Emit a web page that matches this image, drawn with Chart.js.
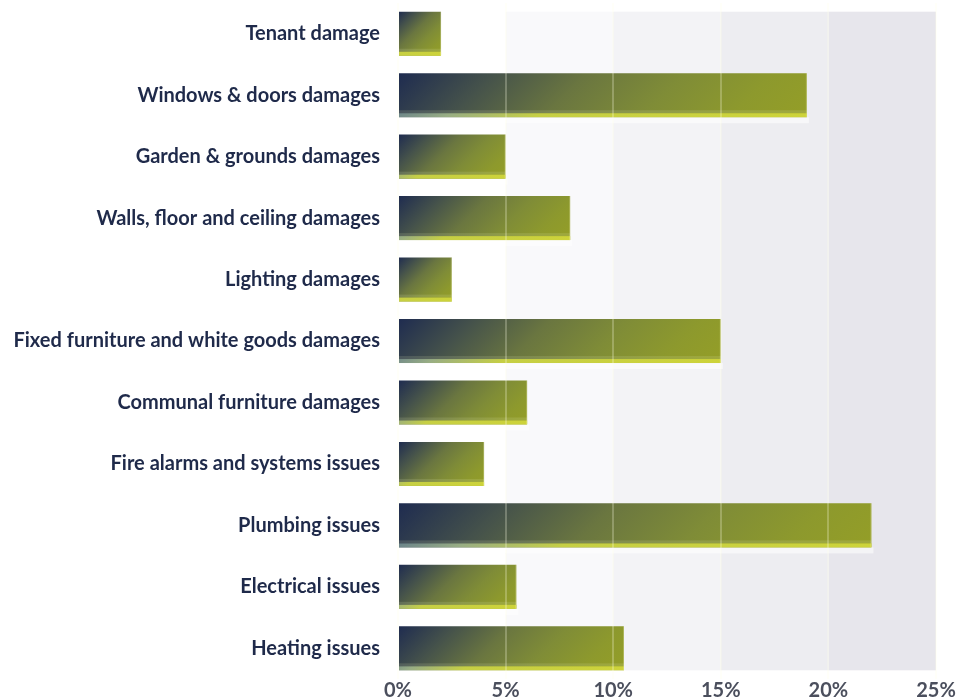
<!DOCTYPE html>
<html>
<head>
<meta charset="utf-8">
<script src="https://cdn.jsdelivr.net/npm/chart.js@4/dist/chart.umd.min.js"></script>
<style>
  html, body { margin: 0; padding: 0; background: #ffffff; }
  #wrap { width: 957px; height: 697px; position: relative; }
</style>
</head>
<body>
<div id="wrap"><canvas id="chart"></canvas></div>
<script>
// Share of reported repairs by type (%)
const categories = [
    'Tenant damage',
    'Windows & doors damages',
    'Garden & grounds damages',
    'Walls, floor and ceiling damages',
    'Lighting damages',
    'Fixed furniture and white goods damages',
    'Communal furniture damages',
    'Fire alarms and systems issues',
    'Plumbing issues',
    'Electrical issues',
    'Heating issues'
];
const shares = [2, 19, 5, 8, 2.5, 15, 6, 4, 22, 5.5, 10.5];
const axisMax = 25;
const tickStep = 5;

const barPct = 0.717;
const bandColours = ['#ffffff', '#f9f9fb', '#f3f3f6', '#ededf1', '#e7e6ec'];

// 45 degree gradient running from the top-left corner to the bottom-right corner
function diagonal(c, x0, top, w, h, stops) {
    const d = (w + h) / 2;
    const g = c.createLinearGradient(x0, top, x0 + d, top + d);
    stops.forEach(([t, col]) => g.addColorStop(t, col));
    return g;
}

const bodyStops = [
    [0, '#1e2b50'], [0.21, '#45524b'], [0.42, '#6a7640'],
    [0.63, '#7f8c37'], [0.83, '#8d992d'], [1, '#949e27']
];
const footStops = [
    [0, '#4f6a8e'], [0.2, '#98ad84'], [0.4, '#c6cf44'], [1, '#cdd33a']
];

function barFill(ctx) {
    const chart = ctx.chart;
    const xs = chart.scales.x, ys = chart.scales.y;
    if (!xs || !ys || !ys.height) return '#5c6a3a';
    const x0 = xs.getPixelForValue(0);
    const x1 = xs.getPixelForValue(ctx.raw);
    const yc = ys.getPixelForValue(ctx.dataIndex);
    const h = ys.height / categories.length * barPct;
    if (![x0, x1, yc, h].every(Number.isFinite)) return '#5c6a3a';
    return diagonal(chart.ctx, x0, yc - h / 2, x1 - x0, h, bodyStops);
}

// Striped backdrop behind the bars, one shade per 5% step
const bandsPlugin = {
    id: 'bands',
    beforeDatasetsDraw(chart) {
        const meta = chart.getDatasetMeta(0);
        const first = meta.data[0], last = meta.data[meta.data.length - 1];
        const top = first.y - first.height / 2;
        const bottom = last.y + last.height / 2;
        const xs = chart.scales.x;
        const c = chart.ctx;
        c.save();
        for (let i = 0; i < axisMax / tickStep; i++) {
            const a = xs.getPixelForValue(i * tickStep);
            const b = xs.getPixelForValue((i + 1) * tickStep);
            c.fillStyle = bandColours[i];
            c.fillRect(a, top, b - a, bottom - top);
        }
        c.restore();
    }
};

// Yellow highlight along the foot of each bar plus a soft glow beneath
const footPlugin = {
    id: 'foot',
    afterDatasetsDraw(chart) {
        const c = chart.ctx;
        const meta = chart.getDatasetMeta(0);
        c.save();
        meta.data.forEach(bar => {
            const x0 = bar.base, x1 = bar.x;
            const w = x1 - x0;
            const top = bar.y - bar.height / 2;
            const bottom = bar.y + bar.height / 2;
            c.fillStyle = 'rgba(255,255,255,0.55)';
            c.fillRect(x0, bottom, w + 2, 6);
            c.fillStyle = 'rgba(235,240,190,0.14)';
            c.fillRect(x0, bottom - 7, w, 3);
            c.fillStyle = diagonal(c, x0, top, w, bar.height, footStops);
            c.fillRect(x0, bottom - 4, w, 4);
            c.fillStyle = 'rgba(255,255,210,0.25)';
            c.fillRect(x1 - 1, top, 1, bar.height);
        });
        c.restore();
    }
};

new Chart(document.getElementById('chart'), {
    type: 'bar',
    data: {
        labels: categories,
        datasets: [{
            data: shares,
            backgroundColor: barFill,
            borderWidth: 0,
            barPercentage: barPct,
            categoryPercentage: 1
        }]
    },
    options: {
        indexAxis: 'y',
        responsive: true,
        maintainAspectRatio: false,
        animation: false,
        layout: { padding: { top: 3, right: 21, bottom: 0, left: 0 } },
        plugins: {
            legend: { display: false },
            tooltip: { enabled: false }
        },
        scales: {
            x: {
                min: 0,
                max: axisMax,
                border: { display: false },
                grid: {
                    z: 1,
                    color: 'rgba(255,255,230,0.25)',
                    lineWidth: 2,
                    drawTicks: false
                },
                ticks: {
                    stepSize: tickStep,
                    padding: 0,
                    color: '#4b4f5d',
                    font: { family: 'Lato', size: 20, weight: 'bold' },
                    callback: v => v + '%'
                },
                afterFit: s => { s.height = 18; }
            },
            y: {
                border: { display: false },
                grid: { display: false, drawTicks: false },
                ticks: {
                    padding: 18,
                    color: '#1f2a4a',
                    font: { family: 'Lato', size: 20, weight: 'bold' }
                },
                afterFit: s => {
                    s.width = 398;
                    s.paddingTop = 0;
                    s.paddingBottom = 0;
                }
            }
        }
    },
    plugins: [bandsPlugin, footPlugin]
});
</script>
</body>
</html>
